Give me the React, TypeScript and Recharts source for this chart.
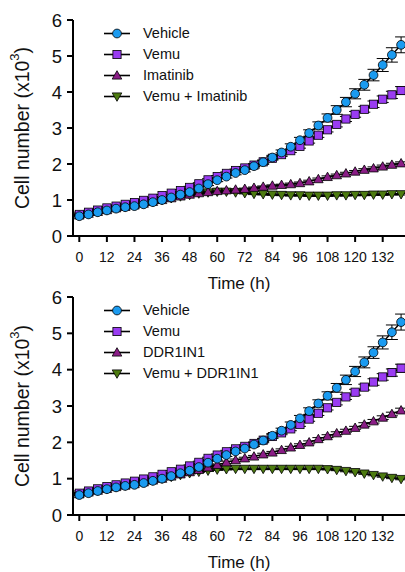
import React from "react";
import { LineChart, Line, XAxis, YAxis, ErrorBar } from "recharts";

const FONT = "'Liberation Sans', Arial, Helvetica, sans-serif";

const hours = [0, 4, 8, 12, 16, 20, 24, 28, 32, 36, 40, 44, 48, 52, 56, 60, 64, 68, 72, 76, 80, 84, 88, 92, 96, 100, 104, 108, 112, 116, 120, 124, 128, 132, 136, 140];

const vehicle = [0.55, 0.6, 0.66, 0.71, 0.76, 0.8, 0.83, 0.88, 0.94, 1.0, 1.07, 1.15, 1.22, 1.32, 1.44, 1.55, 1.65, 1.75, 1.83, 1.94, 2.05, 2.18, 2.32, 2.48, 2.66, 2.86, 3.07, 3.28, 3.5, 3.72, 3.95, 4.2, 4.47, 4.75, 5.03, 5.31];
const vehicleErr = [0.02, 0.02, 0.02, 0.02, 0.02, 0.02, 0.02, 0.02, 0.03, 0.03, 0.03, 0.03, 0.03, 0.04, 0.04, 0.04, 0.04, 0.05, 0.05, 0.05, 0.06, 0.06, 0.07, 0.08, 0.08, 0.09, 0.1, 0.11, 0.12, 0.13, 0.14, 0.15, 0.16, 0.18, 0.2, 0.22];

const vemu = [0.6, 0.66, 0.72, 0.78, 0.83, 0.88, 0.93, 0.99, 1.05, 1.12, 1.19, 1.26, 1.35, 1.45, 1.56, 1.65, 1.74, 1.82, 1.89, 1.97, 2.06, 2.16, 2.26, 2.37, 2.49, 2.64, 2.8, 2.95, 3.1, 3.25, 3.38, 3.52, 3.66, 3.8, 3.92, 4.04];
const vemuErr = [0.02, 0.02, 0.02, 0.02, 0.02, 0.02, 0.02, 0.02, 0.02, 0.03, 0.03, 0.03, 0.03, 0.03, 0.03, 0.03, 0.04, 0.04, 0.04, 0.04, 0.04, 0.05, 0.05, 0.05, 0.05, 0.06, 0.06, 0.06, 0.07, 0.07, 0.08, 0.08, 0.09, 0.09, 0.1, 0.11];

const imatinib = [0.57, 0.62, 0.67, 0.72, 0.77, 0.81, 0.85, 0.9, 0.95, 1.0, 1.05, 1.1, 1.15, 1.19, 1.22, 1.25, 1.27, 1.29, 1.31, 1.34, 1.37, 1.4, 1.42, 1.44, 1.47, 1.52, 1.58, 1.64, 1.69, 1.74, 1.79, 1.84, 1.88, 1.93, 1.98, 2.02];
const imatinibErr = [0.02, 0.02, 0.02, 0.02, 0.02, 0.02, 0.02, 0.02, 0.02, 0.02, 0.02, 0.02, 0.02, 0.02, 0.02, 0.02, 0.02, 0.02, 0.02, 0.02, 0.02, 0.02, 0.02, 0.03, 0.03, 0.03, 0.03, 0.03, 0.03, 0.03, 0.03, 0.03, 0.04, 0.04, 0.04, 0.04];

const vemuImatinib = [0.57, 0.62, 0.67, 0.72, 0.77, 0.81, 0.85, 0.9, 0.95, 1.0, 1.05, 1.1, 1.14, 1.18, 1.21, 1.23, 1.23, 1.21, 1.19, 1.17, 1.16, 1.15, 1.14, 1.13, 1.13, 1.12, 1.12, 1.12, 1.13, 1.13, 1.14, 1.14, 1.15, 1.15, 1.16, 1.16];
const vemuImatinibErr = [0.02, 0.02, 0.02, 0.02, 0.02, 0.02, 0.02, 0.02, 0.02, 0.02, 0.02, 0.02, 0.02, 0.02, 0.02, 0.02, 0.02, 0.02, 0.02, 0.02, 0.02, 0.02, 0.02, 0.02, 0.02, 0.02, 0.02, 0.02, 0.02, 0.02, 0.02, 0.02, 0.02, 0.02, 0.02, 0.02];

const ddr1in1 = [0.57, 0.62, 0.67, 0.72, 0.77, 0.81, 0.85, 0.9, 0.95, 1.0, 1.06, 1.12, 1.18, 1.24, 1.31, 1.38, 1.45, 1.51, 1.56, 1.61, 1.67, 1.72, 1.79, 1.86, 1.93, 2.0, 2.09, 2.17, 2.25, 2.32, 2.4, 2.49, 2.58, 2.68, 2.78, 2.88];
const ddr1in1Err = [0.02, 0.02, 0.02, 0.02, 0.02, 0.02, 0.02, 0.02, 0.02, 0.02, 0.02, 0.02, 0.02, 0.02, 0.02, 0.02, 0.03, 0.03, 0.03, 0.03, 0.03, 0.03, 0.03, 0.03, 0.03, 0.04, 0.04, 0.04, 0.04, 0.04, 0.04, 0.05, 0.05, 0.05, 0.05, 0.06];

const vemuDdr1in1 = [0.57, 0.62, 0.67, 0.72, 0.77, 0.81, 0.85, 0.9, 0.95, 1.0, 1.05, 1.1, 1.15, 1.19, 1.22, 1.25, 1.26, 1.27, 1.27, 1.27, 1.27, 1.27, 1.27, 1.27, 1.27, 1.27, 1.27, 1.26, 1.24, 1.21, 1.18, 1.14, 1.1, 1.06, 1.02, 0.99];
const vemuDdr1in1Err = [0.02, 0.02, 0.02, 0.02, 0.02, 0.02, 0.02, 0.02, 0.02, 0.02, 0.02, 0.02, 0.02, 0.02, 0.02, 0.02, 0.02, 0.02, 0.02, 0.02, 0.02, 0.02, 0.02, 0.02, 0.02, 0.02, 0.02, 0.02, 0.02, 0.02, 0.02, 0.02, 0.02, 0.02, 0.02, 0.02];

const xTicks = [0, 12, 24, 36, 48, 60, 72, 84, 96, 108, 120, 132];
const yTicks = [0, 1, 2, 3, 4, 5, 6];

const topNames = ["Vehicle", "Vemu", "Imatinib", "Vemu + Imatinib"];
const bottomNames = ["Vehicle", "Vemu", "DDR1IN1", "Vemu + DDR1IN1"];

const COLORS = ["#1b9bf0", "#9a3cf2", "#8a1d86", "#4d7b10"];
const SHAPES = ["circle", "square", "up", "down"];

function marker(shape: string, cx: number, cy: number, fill: string, key?: string | number) {
  const common = { fill, stroke: "#000", strokeWidth: 0.8 };
  if (shape === "circle") return <circle key={key} {...common} cx={cx} cy={cy} r={4.4} />;
  if (shape === "square") return <rect key={key} {...common} x={cx - 4.1} y={cy - 4.1} width={8.2} height={8.2} />;
  if (shape === "up")
    return <path key={key} {...common} d={`M${cx},${cy - 4.8}L${cx + 4.8},${cy + 3.6}L${cx - 4.8},${cy + 3.6}Z`} />;
  return <path key={key} {...common} d={`M${cx},${cy + 4.8}L${cx + 4.8},${cy - 3.6}L${cx - 4.8},${cy - 3.6}Z`} />;
}

function buildData(a: number[], aErr: number[], b: number[], bErr: number[]) {
  return hours.map((h, i) => ({
    h,
    s0: vehicle[i],
    e0: vehicleErr[i],
    s1: vemu[i],
    e1: vemuErr[i],
    s2: a[i],
    e2: aErr[i],
    s3: b[i],
    e3: bErr[i],
  }));
}

const topData = buildData(imatinib, imatinibErr, vemuImatinib, vemuImatinibErr);
const bottomData = buildData(ddr1in1, ddr1in1Err, vemuDdr1in1, vemuDdr1in1Err);

function LegendBox({ names }: { names: string[] }) {
  return (
    <div style={{ position: "absolute", left: 104, top: 23, fontFamily: FONT, fontSize: 14.5, color: "#111", lineHeight: "21px" }}>
      {names.map((n, i) => (
        <div key={n} style={{ height: 21, display: "flex", alignItems: "center" }}>
          <svg width={26} height={21} style={{ display: "block" }}>
            <line x1={0} y1={10.5} x2={26} y2={10.5} stroke="#000" strokeWidth={1.6} />
            {marker(SHAPES[i], 13, 10.5, COLORS[i])}
          </svg>
          <span style={{ marginLeft: 13, whiteSpace: "nowrap" }}>{n}</span>
        </div>
      ))}
    </div>
  );
}

function Panel({ data, names, plotHeight, top }: { data: any[]; names: string[]; plotHeight: number; top: number }) {
  const order = [3, 2, 1, 0];
  return (
    <div style={{ position: "absolute", left: 0, top, width: 405, height: 295 }}>
      <LineChart
        width={405}
        height={20 + plotHeight + 57}
        data={data}
        margin={{ top: 20, right: 0, bottom: 0, left: 0 }}
        style={{ fontFamily: FONT }}
      >
        <XAxis
          dataKey="h"
          type="number"
          domain={[-2.74, 141.7]}
          allowDataOverflow
          ticks={xTicks}
          interval={0}
          height={57}
          tickSize={6}
          tickMargin={10}
          axisLine={{ stroke: "#000", strokeWidth: 2 }}
          tickLine={{ stroke: "#000", strokeWidth: 2 }}
          tick={{ fill: "#111", fontSize: 14, fontFamily: FONT }}
          label={{
            content: (p: any) => {
              const vb = p.viewBox || { x: 73, y: 0, width: 332 };
              return (
                <text x={vb.x + vb.width / 2} y={vb.y + 53} textAnchor="middle" fontSize={17} fontFamily={FONT} fill="#111">
                  Time (h)
                </text>
              );
            },
          }}
        />
        <YAxis
          type="number"
          domain={[0, 6]}
          ticks={yTicks}
          interval={0}
          width={73}
          tickSize={6}
          tickMargin={5}
          axisLine={{ stroke: "#000", strokeWidth: 2 }}
          tickLine={{ stroke: "#000", strokeWidth: 2 }}
          tick={{ fill: "#111", fontSize: 18.5, fontFamily: FONT }}
          label={{
            content: (p: any) => {
              const vb = p.viewBox || { x: 0, y: 20, height: plotHeight };
              const cx = 22;
              const cy = vb.y + vb.height / 2;
              return (
                <text
                  x={cx}
                  y={cy}
                  transform={`rotate(-90 ${cx} ${cy})`}
                  textAnchor="middle"
                  dominantBaseline="central"
                  fontSize={19.5}
                  fontFamily={FONT}
                  fill="#111"
                >
                  <tspan>Cell number (x10</tspan>
                  <tspan dy={-8} fontSize={13}>3</tspan>
                  <tspan dy={8}>)</tspan>
                </text>
              );
            },
          }}
        />
        {order.map((i) => (
          <Line
            key={`s${i}`}
            dataKey={`s${i}`}
            name={names[i]}
            type="linear"
            stroke="#000"
            strokeWidth={1.4}
            isAnimationActive={false}
            dot={(p: any) => marker(SHAPES[i], p.cx, p.cy, COLORS[i], `d${i}-${p.index}`)}
            activeDot={false}
          >
            <ErrorBar dataKey={`e${i}`} width={6} stroke="#000" strokeWidth={1} direction="y" />
          </Line>
        ))}
      </LineChart>
      <LegendBox names={names} />
    </div>
  );
}

export default function App() {
  return (
    <div style={{ position: "absolute", left: 0, top: 0, width: 405, height: 572, background: "#fff" }}>
      <Panel data={topData} names={topNames} plotHeight={216} top={0} />
      <Panel data={bottomData} names={bottomNames} plotHeight={218} top={277} />
    </div>
  );
}
